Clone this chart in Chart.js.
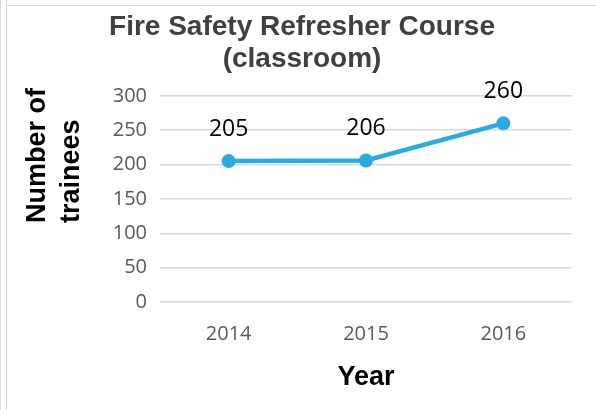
<!DOCTYPE html>
<html>
<head>
<meta charset="utf-8">
<script src="https://cdn.jsdelivr.net/npm/chart.js@4"></script>
<style>
  html, body { margin: 0; padding: 0; background: #fff; }
  #wrap { position: relative; width: 596px; height: 410px; overflow: hidden; }
  #wrap canvas { position: absolute; left: 0; top: 0; }
  .ln { position: absolute; background: #d9d9d9; }
</style>
</head>
<body>
<div id="wrap">
  <canvas id="myChart" width="596" height="410"></canvas>
  <div class="ln" style="left:0;top:0;width:1px;height:410px"></div>
  <div class="ln" style="left:6px;top:0;width:1px;height:410px"></div>
  <div class="ln" style="left:6px;top:5px;width:590px;height:1px"></div>
</div>
<script>
const years = ['2014', '2015', '2016'];
const trainees = [205, 206, 260];
const yTicks = [0, 50, 100, 150, 200, 250, 300];
const yTitle = ['Number of', 'trainees'];

const bodyFont = "'Open Sans', 'Liberation Sans', sans-serif";
const headFont = "'Liberation Sans', Arial, sans-serif";

// draws the value above each point
const valueLabels = {
    id: 'valueLabels',
    afterDatasetsDraw(chart) {
        const ctx = chart.ctx;
        const meta = chart.getDatasetMeta(0);
        ctx.save();
        ctx.font = '23px ' + bodyFont;
        ctx.fillStyle = '#000';
        ctx.textAlign = 'center';
        ctx.textBaseline = 'middle';
        meta.data.forEach(function (pt, i) {
            ctx.fillText(String(trainees[i]), pt.x, pt.y - 32);
        });
        ctx.restore();
    }
};

// y axis title sits higher than the plot centre, lines aligned at the bottom
const yAxisTitle = {
    id: 'yAxisTitle',
    afterDraw(chart) {
        const ctx = chart.ctx;
        const area = chart.chartArea;
        ctx.save();
        ctx.font = 'bold 27px ' + headFont;
        ctx.fillStyle = '#000';
        ctx.textAlign = 'left';
        ctx.textBaseline = 'middle';
        ctx.translate(38, area.bottom - 79);
        ctx.rotate(-Math.PI / 2);
        yTitle.forEach(function (line, i) {
            ctx.fillText(line, 0, i * 34);
        });
        ctx.restore();
    }
};

const ctx = document.getElementById('myChart');

const myChart = new Chart(ctx, {
    type: 'line',
    data: {
        labels: years,
        datasets: [{
            label: 'Number of trainees',
            data: trainees,
            borderColor: '#29abe2',
            backgroundColor: '#29abe2',
            borderWidth: 4.5,
            pointRadius: 7,
            pointBorderWidth: 0,
            tension: 0
        }]
    },
    options: {
        responsive: false,
        animation: false,
        layout: { padding: { left: 32, right: 24, top: 0, bottom: 0 } },
        plugins: {
            legend: { display: false },
            tooltip: { enabled: false },
            title: {
                display: true,
                text: ['Fire Safety Refresher Course', '(classroom)'],
                color: '#404040',
                font: { family: headFont, size: 28, weight: 'bold', lineHeight: 1.14 },
                padding: { top: 11, bottom: 21 }
            }
        },
        scales: {
            x: {
                offset: true,
                afterFit(axis) { axis.height = 108; },
                grid: { display: false },
                border: { display: false },
                ticks: { color: '#595959', font: { family: bodyFont, size: 20 }, padding: 12 },
                title: {
                    display: true,
                    text: 'Year',
                    color: '#000',
                    font: { family: headFont, size: 27, weight: 'bold' },
                    padding: { top: 0, bottom: 16 }
                }
            },
            y: {
                min: 0,
                max: 300,
                afterBuildTicks(axis) {
                    axis.ticks = yTicks.map(v => ({ value: v }));
                },
                afterFit(axis) { axis.width = 128; },
                grid: { color: '#d9d9d9', lineWidth: 1.5, drawTicks: false },
                border: { display: false },
                ticks: { color: '#595959', font: { family: bodyFont, size: 20 }, padding: 13 }
            }
        }
    },
    plugins: [valueLabels, yAxisTitle]
});
</script>
</body>
</html>
